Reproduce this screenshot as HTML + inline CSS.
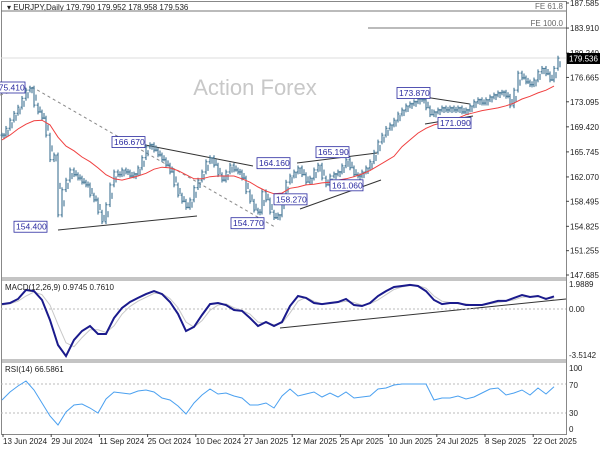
<!DOCTYPE html>
<html><head><meta charset="utf-8"><style>
body{margin:0;background:#fff;}
svg{display:block;font-family:"Liberation Sans",sans-serif;}
</style></head><body>
<svg id="chart" width="600" height="450" viewBox="0 0 600 450">
<rect x="0" y="0" width="600" height="450" fill="#fff"/>
<g id="frame">
<rect x="1.5" y="1.5" width="565" height="433" fill="none" stroke="#888" stroke-width="1"/>
<line x1="1" y1="278" x2="567" y2="278" stroke="#888"/>
<line x1="1" y1="280" x2="567" y2="280" stroke="#888"/>
<line x1="1" y1="360" x2="567" y2="360" stroke="#888"/>
<line x1="1" y1="362" x2="567" y2="362" stroke="#888"/>
</g>
<text x="7" y="10" font-size="8" fill="#222">▾ EURJPY,Daily  179.790 179.952 178.958 179.536</text>
<text x="255" y="95" font-size="22" fill="#c8c8c8" text-anchor="middle">Action Forex</text>
<line x1="1" y1="11" x2="566" y2="11" stroke="#777"/>
<text x="563" y="9" font-size="8" fill="#666" text-anchor="end">FE 61.8</text>
<line x1="368" y1="28" x2="566" y2="28" stroke="#777"/>
<text x="563" y="26" font-size="8" fill="#666" text-anchor="end">FE 100.0</text>
<line x1="1" y1="58" x2="566" y2="58" stroke="#ddd"/>
<g id="trend" stroke="#333" fill="none">
<line x1="32" y1="87" x2="275" y2="227" stroke="#888" stroke-dasharray="3,3"/>
<line x1="0" y1="95" x2="30" y2="87" stroke="#888" stroke-dasharray="3,3"/>
<line x1="130" y1="142" x2="253" y2="166"/>
<line x1="58" y1="230" x2="197" y2="216"/>
<line x1="297" y1="163" x2="377" y2="153"/>
<line x1="300" y1="209" x2="381" y2="180"/>
<line x1="418" y1="96" x2="470" y2="104"/>
<line x1="425" y1="124" x2="473" y2="116"/>
<line x1="280" y1="328" x2="566" y2="299"/>
</g>
<g id="bars"></g>
<polyline id="ma" fill="none" stroke="#f04040" stroke-width="1"/>
<g id="labels" font-size="8.5" fill="#2a2aa0"></g>
<g id="yaxis" font-size="8" fill="#222"></g>
<rect x="567" y="53" width="33" height="11" fill="#000"/>
<text x="569" y="61.5" font-size="8" fill="#fff">179.536</text>
<line x1="1" y1="309" x2="566" y2="309" stroke="#bbb" stroke-dasharray="2,2"/>
<polyline id="sig" fill="none" stroke="#c8c8c8" stroke-width="1"/>
<polyline id="macd" fill="none" stroke="#1a1a8c" stroke-width="2"/>
<text x="5" y="290" font-size="8" fill="#222">MACD(12,26,9) 0.9745 0.7610</text>
<text x="569" y="287" font-size="8" fill="#222">1.9889</text>
<text x="569" y="312" font-size="8" fill="#222">0.00</text>
<text x="569" y="358" font-size="8" fill="#222">-3.5142</text>
<line x1="1" y1="384" x2="566" y2="384" stroke="#bbb" stroke-dasharray="2,2"/>
<line x1="1" y1="413" x2="566" y2="413" stroke="#bbb" stroke-dasharray="2,2"/>
<polyline id="rsi" fill="none" stroke="#4aa0f0" stroke-width="1"/>
<text x="5" y="372" font-size="8" fill="#222">RSI(14) 66.5861</text>
<text x="569" y="371" font-size="8" fill="#222">100</text>
<text x="569" y="388" font-size="8" fill="#222">70</text>
<text x="569" y="416" font-size="8" fill="#222">30</text>
<text x="569" y="432" font-size="8" fill="#222">0</text>
<g id="xaxis" font-size="8" fill="#222"></g>
</svg>
<script>
const closes=[168.2,169.2,170.4,171.4,172.3,173.6,174.8,175.1,172.6,171.6,170.7,168.2,164.6,165.3,156.5,160.2,161.6,163.1,162.4,161.9,161.3,160.9,159.4,158.7,156.9,155.5,158.0,160.9,162.8,162.4,163.1,162.8,162.2,162.5,163.4,164.9,166.5,166.8,166.0,165.3,164.6,163.8,162.8,160.9,159.4,158.5,157.6,158.7,160.5,161.6,162.8,164.3,164.9,163.8,162.4,161.6,162.8,163.8,163.1,162.8,161.9,159.9,158.5,157.2,156.9,159.9,158.7,156.9,156.1,156.5,159.4,161.3,162.2,162.8,163.4,162.4,161.3,161.9,163.1,163.8,161.9,160.9,162.2,162.5,162.8,163.7,164.6,163.4,162.4,162.2,162.8,163.4,164.3,165.7,167.2,168.2,169.2,169.7,170.4,171.3,171.9,172.5,172.8,173.1,173.5,173.4,172.2,171.2,171.6,171.9,172.2,171.9,172.2,171.9,172.2,171.6,171.9,172.5,173.1,173.4,172.9,173.4,173.8,174.1,174.4,174.5,173.9,172.5,174.8,177.3,176.6,176.0,175.6,176.3,177.5,178.0,177.2,176.3,178.0,179.5];
const maValues=[167.5,168.2,169.1,169.8,170.3,170.4,169.7,167.9,166.6,165.9,165.0,164.3,163.4,162.4,161.8,161.6,161.9,162.2,162.6,163.2,163.5,163.4,163.0,162.4,161.8,161.8,162.1,162.2,162.2,162.2,161.8,161.3,160.6,160.0,159.6,159.7,160.4,160.6,160.9,161.0,161.2,161.3,161.6,161.8,162.1,162.5,163.0,163.7,164.4,165.1,166.5,167.5,168.5,169.2,169.7,170.0,170.3,170.7,171.2,171.5,171.8,172.0,172.2,172.5,172.9,173.5,173.9,174.4,174.8,175.4];
const macdValues=[0.38,0.46,0.77,1.46,1.38,0.69,-0.85,-2.77,-3.62,-2.38,-1.69,-1.31,-1.92,-1.92,-0.69,0.08,0.54,0.85,1.15,1.38,1.15,0.54,-0.38,-1.69,-1.38,-0.46,0.38,0.46,0.31,-0.08,-0.15,-0.69,-1.31,-1.0,-1.31,-1.0,0.23,1.0,0.85,0.46,0.38,0.46,0.54,0.77,0.31,0.23,0.46,1.0,1.38,1.69,1.77,1.85,1.77,1.38,0.69,0.38,0.46,0.46,0.31,0.31,0.31,0.46,0.62,0.62,0.85,1.08,0.92,1.0,0.77,0.97];
const signalValues=[0.3,0.4,0.6,1.0,1.3,1.1,0.3,-1.2,-2.6,-2.9,-2.2,-1.6,-1.6,-1.8,-1.3,-0.4,0.2,0.6,0.9,1.2,1.2,0.8,0.1,-1.0,-1.4,-0.9,-0.1,0.3,0.4,0.1,-0.1,-0.4,-1.0,-1.1,-1.2,-1.1,-0.3,0.6,0.9,0.6,0.4,0.4,0.5,0.6,0.5,0.3,0.4,0.7,1.1,1.5,1.7,1.8,1.8,1.6,1.0,0.6,0.5,0.4,0.4,0.3,0.3,0.4,0.5,0.6,0.7,0.9,0.95,0.95,0.85,0.76];
const rsiValues=[48.3,59.3,67.6,74.5,62.1,44.1,26.2,13.8,31.7,41.4,42.8,37.2,30.3,49.7,59.3,57.9,56.6,60.7,62.1,59.3,51.0,48.3,40.0,29.0,44.1,55.2,63.4,56.6,57.9,53.8,51.0,41.4,41.4,44.1,37.2,53.8,63.4,53.8,56.6,59.3,52.4,57.9,52.4,59.3,51.0,52.4,53.8,63.4,64.8,69.0,70.3,70.3,70.3,70.3,48.3,51.0,51.0,53.8,49.7,52.4,57.9,63.4,64.8,55.2,57.9,62.1,55.2,64.8,56.6,66.6];
const priceTicks=[187.585,183.910,180.240,176.665,173.095,169.420,165.745,162.070,158.495,154.825,151.255,147.685];
const dateLabels=["13 Jun 2024","29 Jul 2024","11 Sep 2024","25 Oct 2024","10 Dec 2024","27 Jan 2025","12 Mar 2025","25 Apr 2025","10 Jun 2025","24 Jul 2025","8 Sep 2025","22 Oct 2025"];
const pivotValues=[175.410,166.670,164.160,165.190,161.060,158.270,154.770,154.400,173.870,171.090];
const pivotIndex=[7,32,73,86,89,69,66,13,104,108];

const NS="http://www.w3.org/2000/svg";
const yP=p=>3+(187.585-p)*6.817;
const xI=i=>2+i*4;
const xS=i=>2+i*8;
const yM=v=>309-v*13;
const yR=v=>435-v*0.725;
function mk(t,a,parent){const e=document.createElementNS(NS,t);for(const k in a)e.setAttribute(k,a[k]);parent.appendChild(e);return e;}

const bars=document.getElementById('bars');
closes.forEach((c,i)=>{
  const o=i?closes[i-1]:c;
  const hi=Math.max(o,c)+0.35, lo=Math.min(o,c)-0.35;
  const x=xI(i);
  const g=mk('g',{stroke:'#4f7f9c','stroke-width':'1.2'},bars);
  
  
  mk('line',{x1:x,y1:yP(hi),x2:x,y2:yP(lo)},g);
  mk('line',{x1:x-1.5,y1:yP(o),x2:x,y2:yP(o)},g);
  mk('line',{x1:x,y1:yP(c),x2:x+1.5,y2:yP(c)},g);
  mk('line',{x1:x+2,y1:yP((o+c)/2+0.3),x2:x+2,y2:yP((o+c)/2-0.6)},g);
});
document.getElementById('ma').setAttribute('points',maValues.map((v,i)=>xS(i)+','+yP(v).toFixed(1)).join(' '));
document.getElementById('macd').setAttribute('points',macdValues.map((v,i)=>xS(i)+','+yM(v).toFixed(1)).join(' '));
document.getElementById('sig').setAttribute('points',signalValues.map((v,i)=>xS(i)+','+yM(v).toFixed(1)).join(' '));
document.getElementById('rsi').setAttribute('points',rsiValues.map((v,i)=>xS(i)+','+yR(v).toFixed(1)).join(' '));

const ya=document.getElementById('yaxis');
priceTicks.forEach(p=>{
  const y=yP(p);
  mk('line',{x1:566,y1:y,x2:569,y2:y,stroke:'#444'},ya);
  const t=mk('text',{x:570,y:y+3},ya);t.textContent=p.toFixed(3);
  
  
});
const xa=document.getElementById('xaxis');
dateLabels.forEach((d,i)=>{
  const x=3+i*48.2;
  mk('line',{x1:x,y1:434,x2:x,y2:437,stroke:'#444'},xa);
  const t=mk('text',{x:x,y:444},xa);t.textContent=d;
  
  
});
const lb=document.getElementById('labels');
const offs=[[-38,2],[-18,-3],[-37,1],[-30,-3],[-28,2],[-4,-3],[-35,-3],[-40,-2],[-21,-3],[4,8]];
pivotValues.forEach((v,i)=>{
  const x=xI(pivotIndex[i])+offs[i][0], y=yP(v)+offs[i][1];
  const g=mk('g',{},lb);
  
  
  mk('rect',{x:x,y:y-6,width:33,height:11,fill:'#fff',stroke:'#2a2aa0','stroke-width':'0.8'},g);
  const t=mk('text',{x:x+2,y:y+2.5},g);t.textContent=v.toFixed(3);
});
</script>
</body></html>
